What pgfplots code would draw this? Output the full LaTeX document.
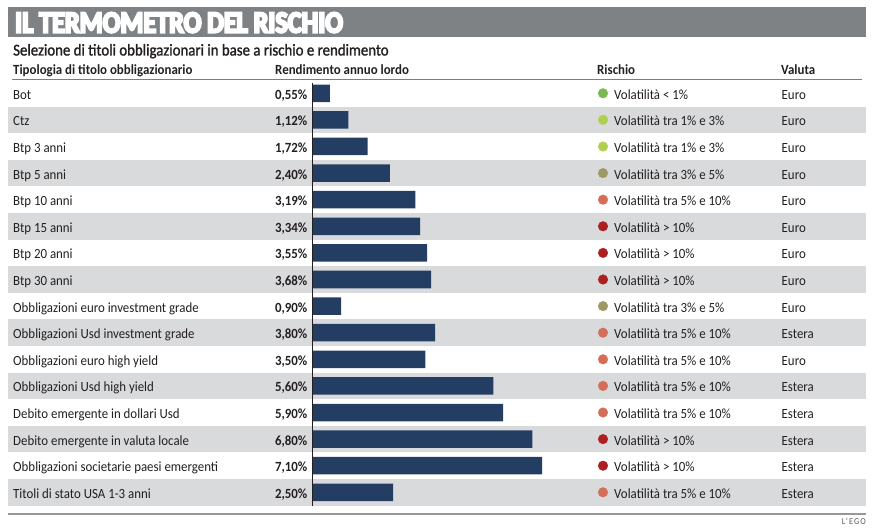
\documentclass[border=0pt]{standalone}
\usepackage{pgfplots}
\pgfplotsset{compat=1.18}
\usepackage{pgfplotstable}
\usepackage{fontspec}
\setmainfont{Carlito}[FakeStretch=0.92]
\newfontfamily\titlefont{Carlito}[FakeStretch=0.86, UprightFeatures={FakeBold=7}, BoldFeatures={FakeBold=7}]
\newfontfamily\subfont{Carlito}[FakeStretch=0.9, FakeBold=1.4]
\definecolor{titlegrey}{RGB}{127,130,132}
\definecolor{band}{RGB}{217,218,219}
\definecolor{navy}{RGB}{36,62,99}
\definecolor{txt}{RGB}{35,31,32}
\definecolor{linegrey}{RGB}{125,125,125}
\definecolor{ca}{RGB}{122,184,84}
\definecolor{cb}{RGB}{178,208,80}
\definecolor{cc}{RGB}{160,152,100}
\definecolor{cd}{RGB}{213,110,88}
\definecolor{ce}{RGB}{172,32,36}

\pgfplotstableread[col sep=semicolon]{
name;val;cls;risk;cur
Bot;0.55;a;Volatilità < 1\%;Euro
Ctz;1.12;b;Volatilità tra 1\% e 3\%;Euro
Btp 3 anni;1.72;b;Volatilità tra 1\% e 3\%;Euro
Btp 5 anni;2.40;c;Volatilità tra 3\% e 5\%;Euro
Btp 10 anni;3.19;d;Volatilità tra 5\% e 10\%;Euro
Btp 15 anni;3.34;e;Volatilità > 10\%;Euro
Btp 20 anni;3.55;e;Volatilità > 10\%;Euro
Btp 30 anni;3.68;e;Volatilità > 10\%;Euro
Obbligazioni euro investment grade;0.90;c;Volatilità tra 3\% e 5\%;Euro
Obbligazioni Usd investment grade;3.80;d;Volatilità tra 5\% e 10\%;Estera
Obbligazioni euro high yield;3.50;d;Volatilità tra 5\% e 10\%;Euro
Obbligazioni Usd high yield;5.60;d;Volatilità tra 5\% e 10\%;Estera
Debito emergente in dollari Usd;5.90;d;Volatilità tra 5\% e 10\%;Estera
Debito emergente in valuta locale;6.80;e;Volatilità > 10\%;Estera
Obbligazioni societarie paesi emergenti;7.10;e;Volatilità > 10\%;Estera
Titoli di stato USA 1-3 anni;2.50;d;Volatilità tra 5\% e 10\%;Estera
}\bonds

\newcommand\bodyf{\fontsize{14}{14}\selectfont}

\begin{document}
\begin{tikzpicture}[x=1pt,y=1pt]
\path[use as bounding box] (0,0) rectangle (874,529);
% title bar
\fill[titlegrey] (8,{529-6.7}) rectangle (866,{529-36.7});
\node[anchor=base west, inner sep=0pt, text=white] at (15,{529-32.5}) {\titlefont\bfseries\fontsize{30.5}{30.5}\selectfont IL TERMOMETRO DEL RISCHIO};
\node[anchor=base west, inner sep=0pt, text=txt] at (13,{529-55.5}) {\subfont\fontsize{16.5}{16.5}\selectfont Selezione di titoli obbligazionari in base a rischio e rendimento};
% headers
\node[anchor=base west, inner sep=0pt, text=txt] at (13,{529-74.5}) {\bodyf\bfseries Tipologia di titolo obbligazionario};
\node[anchor=base west, inner sep=0pt, text=txt] at (275,{529-74.5}) {\bodyf\bfseries Rendimento annuo lordo};
\node[anchor=base west, inner sep=0pt, text=txt] at (597,{529-74.5}) {\bodyf\bfseries Rischio};
\node[anchor=base west, inner sep=0pt, text=txt] at (781,{529-74.5}) {\bodyf\bfseries Valuta};
\draw[linegrey, line width=1.5pt] (12,{529-79.5}) -- (862,{529-79.5});
% row bands
\foreach \i in {1,3,...,15} {
  \fill[band] (8,{529-80-26.6*\i}) rectangle (866,{529-80-26.6*(\i+1)});
}
\begin{axis}[at={(0,0)}, anchor=south west, scale only axis,
  width=874pt, height=529pt,
  xmin=-9.6296, xmax=17.3457, ymin=-3.5075, ymax=16.3797,
  y dir=reverse, hide axis, clip=false]
% bars
\addplot[xbar, bar width=17.5pt, fill=navy, draw=none] table[x=val, y expr=\coordindex] {\bonds};
% value labels
\addplot[only marks, mark=none, point meta=explicit,
  nodes near coords={\pgfmathprintnumber[fixed, fixed zerofill, precision=2, use comma, assume math mode=true]{\pgfplotspointmeta}\%},
  nodes near coords style={anchor=base east, yshift=-6pt, inner sep=0pt, text=txt, font=\bodyf\bfseries}]
  table[x expr=-0.1389, y expr=\coordindex, meta=val] {\bonds};
% names
\addplot[only marks, mark=none, point meta=explicit symbolic, nodes near coords,
  nodes near coords style={anchor=base west, yshift=-6pt, inner sep=0pt, text=txt, font=\bodyf}]
  table[x expr=-9.2284, y expr=\coordindex, meta=name] {\bonds};
% risk dots
\addplot[scatter, only marks, scatter src=explicit symbolic, mark size=4.8pt,
  scatter/classes={a={mark=*, draw=ca, fill=ca}, b={mark=*, draw=cb, fill=cb},
    c={mark=*, draw=cc, fill=cc}, d={mark=*, draw=cd, fill=cd}, e={mark=*, draw=ce, fill=ce}}]
  table[x expr=8.9815, y expr=\coordindex, meta=cls] {\bonds};
% risk text
\addplot[only marks, mark=none, point meta=explicit symbolic, nodes near coords,
  nodes near coords style={anchor=base west, yshift=-6pt, inner sep=0pt, text=txt, font=\bodyf}]
  table[x expr=9.3210, y expr=\coordindex, meta=risk] {\bonds};
% currency
\addplot[only marks, mark=none, point meta=explicit symbolic, nodes near coords,
  nodes near coords style={anchor=base west, yshift=-6pt, inner sep=0pt, text=txt, font=\bodyf}]
  table[x expr=14.4907, y expr=\coordindex, meta=cur] {\bonds};
\end{axis}
\draw[txt, line width=0.8pt] (312.3,{529-83}) -- (312.3,{529-506});
\draw[linegrey!80, line width=2.5pt] (8,{529-513.8}) -- (866,{529-513.8});
\node[anchor=base east, inner sep=0pt, text=txt!75] at (866,{529-525}) {\fontsize{9}{9}\selectfont\addfontfeature{LetterSpace=12}L'EGO};
\end{tikzpicture}
\end{document}
